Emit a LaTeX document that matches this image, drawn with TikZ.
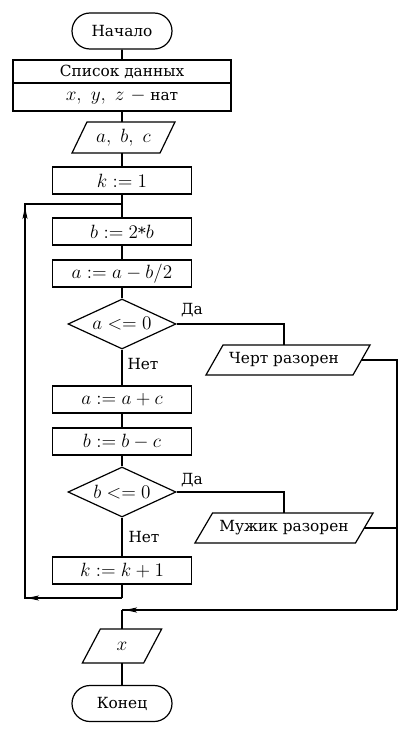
\documentclass[tikz,border=0pt]{standalone}
\usepackage{fontspec}
\setmainfont{DejaVu Serif}
\usetikzlibrary{shapes.geometric,shapes.misc,arrows.meta,calc}
\newcommand{\mth}[1]{{\fontsize{14}{16}\selectfont$#1$}}
\newcommand{\drawpara}[2]{\draw[line width=0.9pt] ([xshift=#2]#1.north west) -- ([xshift=#2]#1.north east) -- ([xshift=-#2]#1.south east) -- ([xshift=-#2]#1.south west) -- cycle;}
\begin{document}
\begin{tikzpicture}[x=0.75pt,y=-0.75pt,
  font=\fontsize{11.5}{14}\selectfont,
  box/.style={draw, line width=0.9pt, rectangle, minimum width=104.25pt, minimum height=20.25pt, inner sep=0pt},
  term/.style={draw, line width=0.9pt, rounded rectangle, minimum width=75pt, minimum height=27pt, inner sep=0pt},
  io/.style={rectangle, inner sep=0pt, outer sep=0pt},
  decision/.style={draw, line width=0.9pt, diamond, aspect=2.16, minimum width=81pt, minimum height=37.5pt, inner sep=0pt},
  lbl/.style={inner sep=0pt},
  flow/.style={line width=1.4pt},
  medl/.style={line width=1.1pt},
  thinl/.style={line width=0.8pt},
  tip/.style={-{Stealth[length=9pt,width=3.8pt,inset=2pt]}}
]
\useasboundingbox (0,0) rectangle (409,731);
\fill[white] (0,0) rectangle (409,731);

\node[term] (start) at (122,31) {Начало};
\node[draw, line width=0.9pt, minimum width=163.5pt, minimum height=17.25pt, inner sep=0pt] (list1) at (122,71.5) {Список данных};
\node[draw, line width=0.9pt, minimum width=163.5pt, minimum height=21pt, inner sep=0pt] (list2) at (122,97) {\mth{x,\ y,\ z\ -}\ нат};
\node[io, minimum width=66pt, minimum height=23.25pt] (abc) at (123.5,137.5) {\mth{a,\ b,\ c}};
\drawpara{abc}{5.6pt}
\node[box] (k1) at (122,180.5) {\mth{k := 1}};
\node[box] (b2) at (122,231.5) {\mth{b := 2}*\mth{b}};
\node[box] (a2) at (122,273.5) {\mth{a := a - b/2}};
\node[decision] (d1) at (122,324) {\mth{a <= 0}};
\node[box] (a3) at (122,399.5) {\mth{a := a + c}};
\node[box] (b3) at (122,441.5) {\mth{b := b - c}};
\node[decision] (d2) at (122,492) {\mth{b <= 0}};
\node[box] (k2) at (122,570.5) {\mth{k := k + 1}};
\node[io, minimum width=110.25pt, minimum height=22.5pt] (cherta) at (288,360) {\hspace*{-6pt}Черт разорен};
\drawpara{cherta}{6.4pt}
\node[io, minimum width=120.4pt, minimum height=22.5pt] (muzh) at (284,528) {Мужик разорен};
\drawpara{muzh}{6.6pt}
\node[io, minimum width=46pt, minimum height=25.5pt] (xin) at (122,646) {\mth{x}};
\drawpara{xin}{6.75pt}
\node[term] (end) at (122,703.5) {Конец};

\node[lbl] (yes1) at (192,310) {Да};
\node[lbl] (no1) at (143,364) {Нет};
\node[lbl] (yes2) at (192,480) {Да};
\node[lbl] (no2) at (144,537) {Нет};

\draw[flow] (start) -- (list1);
\draw[flow] (list2.south) -- (list2.south |- abc.north);
\draw[flow] (abc.south -| k1.north) -- (k1.north);
\draw[flow] (k1) -- (b2);
\draw[flow] (b2) -- (a2);
\draw[flow] (a2) -- (d1);
\draw[flow] (d1) -- (a3);
\draw[flow] (a3) -- (b3);
\draw[flow] (b3) -- (d2);
\draw[flow] (d2) -- (k2);
\draw[flow] (xin) -- (end);

\draw[medl] (d1.east) -| ([xshift=-3pt]cherta.north);
\draw[medl] (d2.east) -| (muzh.north);

\coordinate (rc) at (397,610);
\coordinate (jc) at (122,610);
\draw[thinl] (cherta.east) -- (cherta.east -| rc) -- (rc);
\draw[thinl] (muzh.east) -- (muzh.east -| rc);
\draw[medl] (rc) -- (jc);
\draw[medl,tip] ($(jc)+(20,0)$) -- ($(jc)+(3,0)$);
\draw[flow] (jc) -- (xin.north);

\coordinate (lb) at (122,598);
\coordinate (lc) at (25,598);
\coordinate (lt) at (25,204);
\coordinate (lj) at (122,204);
\draw[flow] (k2.south) -- (lb);
\draw[thinl] (lb) -- (lc) -- (lt) -- (lj);
\draw[thinl,tip] ($(lc)+(18,0)$) -- ($(lc)+(2,0)$);
\draw[thinl,tip] ($(lt)+(0,18)$) -- ($(lt)+(0,3)$);
\end{tikzpicture}
\end{document}
